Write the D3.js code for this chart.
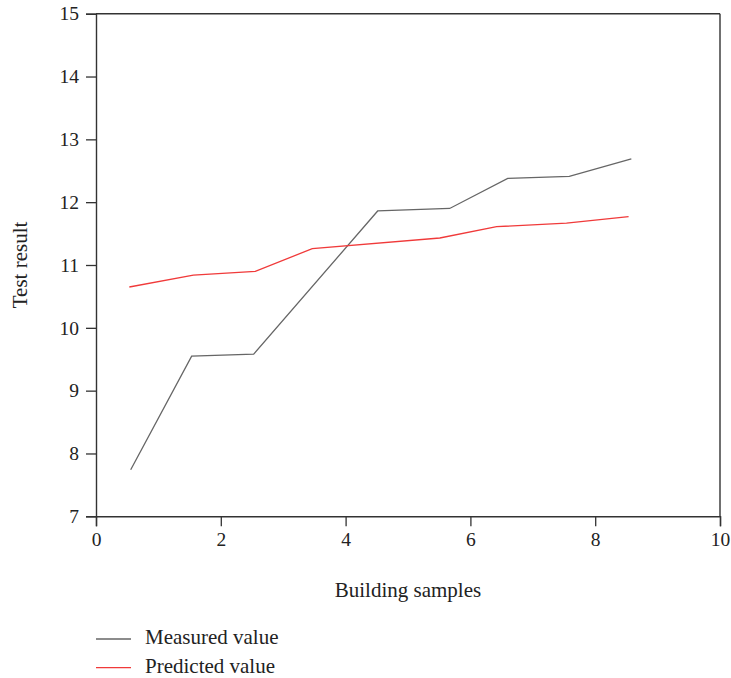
<!DOCTYPE html>
<html><head><meta charset="utf-8">
<script src="https://cdn.jsdelivr.net/npm/d3@7"></script>
<style>body{margin:0;background:#fff}svg{display:block}text{font-family:"Liberation Serif","DejaVu Serif",serif;fill:#222}</style>
</head><body><svg id="c" width="731" height="678"></svg>
<script>
const measuredX = [0.556, 1.533, 2.527, 4.514, 5.668, 6.598, 7.585, 8.579];
const measuredY = [7.74, 9.55, 9.58, 11.86, 11.90, 12.38, 12.41, 12.69];
const predictedX = [0.534, 1.56, 2.553, 3.466, 5.51, 6.42, 7.54, 8.535];
const predictedY = [10.65, 10.84, 10.90, 11.26, 11.43, 11.61, 11.665, 11.77];
const xTicks = [0, 2, 4, 6, 8, 10];
const yTicks = [7, 8, 9, 10, 11, 12, 13, 14, 15];
const seriesNames = ["Measured value", "Predicted value"];
const seriesColors = ["#666666", "#f03a3a"];

const svg = d3.select("#c");
const L = 96, R = 720, T = 13.7, B = 516.3;
const x = d3.scaleLinear().domain([0, 10]).range([L, R]);
const y = d3.scaleLinear().domain([7, 15]).range([B, T]);

svg.append("line").attr("x1", L).attr("x2", R).attr("y1", T).attr("y2", T).attr("stroke", "#333").attr("stroke-width", 1.4);
svg.append("line").attr("x1", R).attr("x2", R).attr("y1", T).attr("y2", B).attr("stroke", "#333").attr("stroke-width", 1.4);

const xMinor = d3.range(1, 10, 2);
const yMinor = d3.range(7.5, 15, 1);
const gx = svg.append("g").attr("transform", `translate(0,${B})`);
gx.call(d3.axisBottom(x).tickValues(xMinor).tickSize(4).tickFormat(""));
gx.call(d3.axisBottom(x).tickValues(xTicks).tickSize(10).tickPadding(6).tickFormat(d3.format("d")));
const gy = svg.append("g").attr("transform", `translate(${L},0)`);
gy.call(d3.axisLeft(y).tickValues(yMinor).tickSize(4).tickFormat(""));
gy.call(d3.axisLeft(y).tickValues(yTicks).tickSize(10).tickPadding(7).tickFormat(d3.format("d")));
svg.selectAll(".domain").attr("stroke", "#333").attr("stroke-width", 1.4);
svg.selectAll(".tick line").attr("stroke", "#333").attr("stroke-width", 1.3);
svg.selectAll(".tick text").attr("font-size", 19.5).attr("font-family", "Liberation Serif, serif").attr("fill", "#222");

const line = d3.line().x(d => x(d[0])).y(d => y(d[1]));
const series = [d3.zip(measuredX, measuredY), d3.zip(predictedX, predictedY)];
series.forEach((s, i) => {
  svg.append("path").datum(s).attr("d", line).attr("fill", "none")
    .attr("stroke", seriesColors[i]).attr("stroke-width", 1.3);
});

svg.append("text").attr("x", 408).attr("y", 597).attr("text-anchor", "middle")
  .attr("font-size", 21).text("Building samples");
svg.append("text").attr("transform", `translate(27,265) rotate(-90)`).attr("text-anchor", "middle")
  .attr("font-size", 21).text("Test result");

seriesNames.forEach((n, i) => {
  const yy = 639 + i * 28.7;
  svg.append("line").attr("x1", 96).attr("x2", 131).attr("y1", yy).attr("y2", yy)
    .attr("stroke", seriesColors[i]).attr("stroke-width", 1.3);
  svg.append("text").attr("x", 145).attr("y", yy + 5).attr("font-size", 21).text(n);
});
</script></body></html>
